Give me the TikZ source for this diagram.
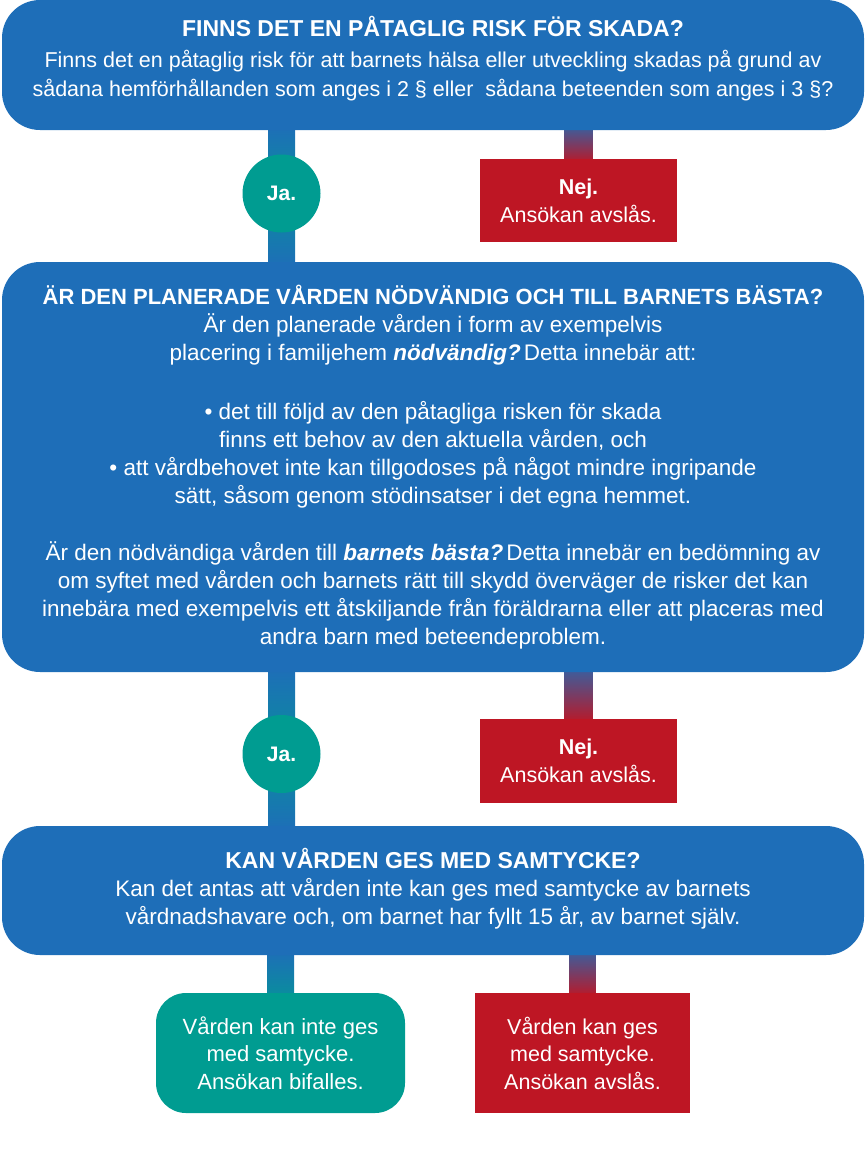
\documentclass[tikz,border=0pt]{standalone}
\usepackage{fontspec}
\setmainfont{Liberation Sans}
\usetikzlibrary{calc}
\definecolor{cblue}{RGB}{30,110,184}
\definecolor{cteal}{RGB}{0,156,145}
\definecolor{cred}{RGB}{190,22,36}
\pgfdeclarelayer{bg}
\pgfsetlayers{bg,main}
\newcommand\boxtitle[2][23]{{\bfseries\fontsize{#1}{28}\selectfont #2}}
\newcommand\emphbi[1]{{\bfseries\itshape #1}}
\begin{document}
\begin{tikzpicture}[x=1pt,y=-1pt,
  bigbox/.style={rectangle,rounded corners=38pt,fill=cblue,minimum width=862pt,inner sep=0pt},
  txt/.style={text=white,align=center,inner sep=0pt,font=\fontsize{22.5}{28}\selectfont},
  janode/.style={circle,fill=cteal,minimum size=78pt,inner sep=0pt,text=white,font=\bfseries\fontsize{21}{25}\selectfont},
  nejbox/.style={rectangle,fill=cred,minimum width=197pt,minimum height=83pt,text=white,align=center,inner sep=0pt,font=\fontsize{21.5}{28}\selectfont},
  endteal/.style={rectangle,rounded corners=30pt,fill=cteal,minimum width=249pt,minimum height=120pt,text=white,align=center,inner sep=0pt,font=\fontsize{22}{27.5}\selectfont},
  endred/.style={rectangle,fill=cred,minimum width=215pt,minimum height=120pt,text=white,align=center,inner sep=0pt,font=\fontsize{21.5}{27.5}\selectfont},
  yesbar/.style={top color=cblue,bottom color=cteal!70!cblue},
  yesbarup/.style={top color=cteal!70!cblue,bottom color=cblue},
  nobar/.style={top color=cblue!85!cred,bottom color=cred}
]
\useasboundingbox (0,0) rectangle (866,1168);

% main boxes
\node[bigbox,minimum height=130pt] (b1) at (433,65) {};
\node[bigbox,minimum height=410pt] (b2) at (433,467) {};
\node[bigbox,minimum height=129pt] (b3) at (433,890.5) {};

% texts
\node[txt,font=\fontsize{21.5}{29}\selectfont] (t1) at (433,59) {\boxtitle{FINNS DET EN PÅTAGLIG RISK FÖR SKADA?}\\[2pt]
Finns det en påtaglig risk för att barnets hälsa eller utveckling skadas på grund av\\
sådana hemförhållanden som anges i 2 § eller\ \ sådana beteenden som anges i 3 §?};

\node[txt] (t2) at (433,467) {\boxtitle[22]{ÄR DEN PLANERADE VÅRDEN NÖDVÄNDIG OCH TILL BARNETS BÄSTA?}\\
Är den planerade vården i form av exempelvis\\
placering i familjehem \emphbi{nödvändig?}\kern3pt Detta innebär att:\\[31pt]
• det till följd av den påtagliga risken för skada\\
finns ett behov av den aktuella vården, och\\
• att vårdbehovet inte kan tillgodoses på något mindre ingripande\\
sätt, såsom genom stödinsatser i det egna hemmet.\\[29pt]
Är den nödvändiga vården till \emphbi{barnets bästa?}\kern3pt Detta innebär en bedömning av\\
om syftet med vården och barnets rätt till skydd överväger de risker det kan\\
innebära med exempelvis ett åtskiljande från föräldrarna eller att placeras med\\
andra barn med beteendeproblem.};

\node[txt] (t3) at (433,889) {\boxtitle{KAN VÅRDEN GES MED SAMTYCKE?}\\
Kan det antas att vården inte kan ges med samtycke av barnets\\
vårdnadshavare och, om barnet har fyllt 15 år, av barnet själv.};

% decision nodes
\node[janode] (ja1) at (281.5,193.5) {Ja.};
\node[nejbox] (n1) at (578.5,200.5) {\textbf{Nej.}\\Ansökan avslås.};
\node[janode] (ja2) at (281.5,754) {Ja.};
\node[nejbox,minimum height=84pt] (n2) at (578.5,761) {\textbf{Nej.}\\Ansökan avslås.};
\node[endteal] (yes3) at (280.5,1053) {Vården kan inte ges\\med samtycke.\\Ansökan bifalles.};
\node[endred] (no3) at (582.5,1053) {Vården kan ges\\med samtycke.\\Ansökan avslås.};

% connectors
\begin{pgfonlayer}{bg}
\shade[yesbar] ($(b1.south -| ja1)+(-13.5,-5)$) rectangle ($(ja1.center)+(13.5,0)$);
\shade[yesbarup] ($(ja1.center)+(-13.5,0)$) rectangle ($(b2.north -| ja1)+(13.5,5)$);
\shade[nobar] ($(b1.south -| n1)+(-14,-5)$) rectangle ($(n1.north)+(14,5)$);
\shade[yesbar] ($(b2.south -| ja2)+(-13.5,-5)$) rectangle ($(ja2.center)+(13.5,0)$);
\shade[yesbarup] ($(ja2.center)+(-13.5,0)$) rectangle ($(b3.north -| ja2)+(13.5,5)$);
\shade[nobar] ($(b2.south -| n2)+(-14,-5)$) rectangle ($(n2.north)+(14,5)$);
\shade[yesbar] ($(b3.south -| yes3)+(-13.5,-5)$) rectangle ($(yes3.north)+(13.5,5)$);
\shade[nobar] ($(b3.south -| no3)+(-13,-5)$) rectangle ($(no3.north)+(13,5)$);
\end{pgfonlayer}
\end{tikzpicture}
\end{document}
